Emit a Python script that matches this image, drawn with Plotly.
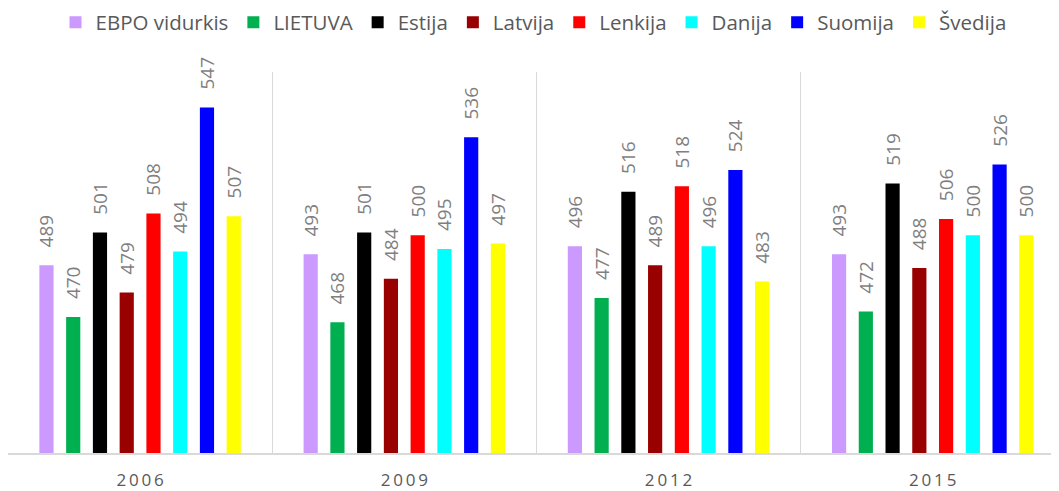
import plotly.graph_objects as go

years = ["2006", "2009", "2012", "2015"]
series_names = ["EBPO vidurkis", "LIETUVA", "Estija", "Latvija", "Lenkija", "Danija", "Suomija", "Švedija"]
ebpo = [489, 493, 496, 493]
lietuva = [470, 468, 477, 472]
estija = [501, 501, 516, 519]
latvija = [479, 484, 489, 488]
lenkija = [508, 500, 518, 506]
danija = [494, 495, 496, 500]
suomija = [547, 536, 524, 526]
svedija = [507, 497, 483, 500]
colors = ["#cc99ff", "#00b050", "#000000", "#990000", "#ff0000", "#00ffff", "#0000ff", "#ffff00"]

values = [ebpo, lietuva, estija, latvija, lenkija, danija, suomija, svedija]
tick_text = ["\u2009".join(list(y)) for y in years]

fig = go.Figure()
for name, vals, col in zip(series_names, values, colors):
    fig.add_trace(go.Bar(
        x=years, y=vals, name=name, marker=dict(color=col, line=dict(width=0)),
        text=vals, texttemplate="\u00a0\u00a0\u00a0%{y}", textposition="outside",
        textangle=-90, cliponaxis=False, constraintext="none",
        textfont=dict(family="Open Sans", size=19, color="#7f7f7f"),
    ))

# page body has an 8px margin, so the figure is sized/offset to compensate
fig.update_layout(
    width=1051, height=483,
    margin=dict(l=0, r=0, t=64, b=38, autoexpand=False),
    paper_bgcolor="white", plot_bgcolor="white",
    barmode="group", bargap=0.19, bargroupgap=0.47,
    font=dict(family="Open Sans", color="#595959"),
    legend=dict(orientation="h", xref="container", yref="container",
                x=0.5, xanchor="center", y=0.970, yanchor="middle",
                font=dict(size=20.5, color="#595959"), itemwidth=30, tracegroupgap=0),
)
fig.update_xaxes(
    type="category", range=[-0.5, 3.478], tickson="boundaries", automargin=False,
    showgrid=True, gridcolor="#d9d9d9", gridwidth=1,
    showline=True, linecolor="#d9d9d9", linewidth=1.5,
    ticks="", tickvals=years, ticktext=tick_text, ticklabelstandoff=11,
    tickfont=dict(family="Open Sans", size=17, color="#595959"),
)
fig.update_yaxes(
    range=[420, 560], showgrid=False, zeroline=False, showticklabels=False, automargin=False,
    showline=True, linecolor="#d9d9d9", linewidth=1,
)

fig.write_html("out.html")
